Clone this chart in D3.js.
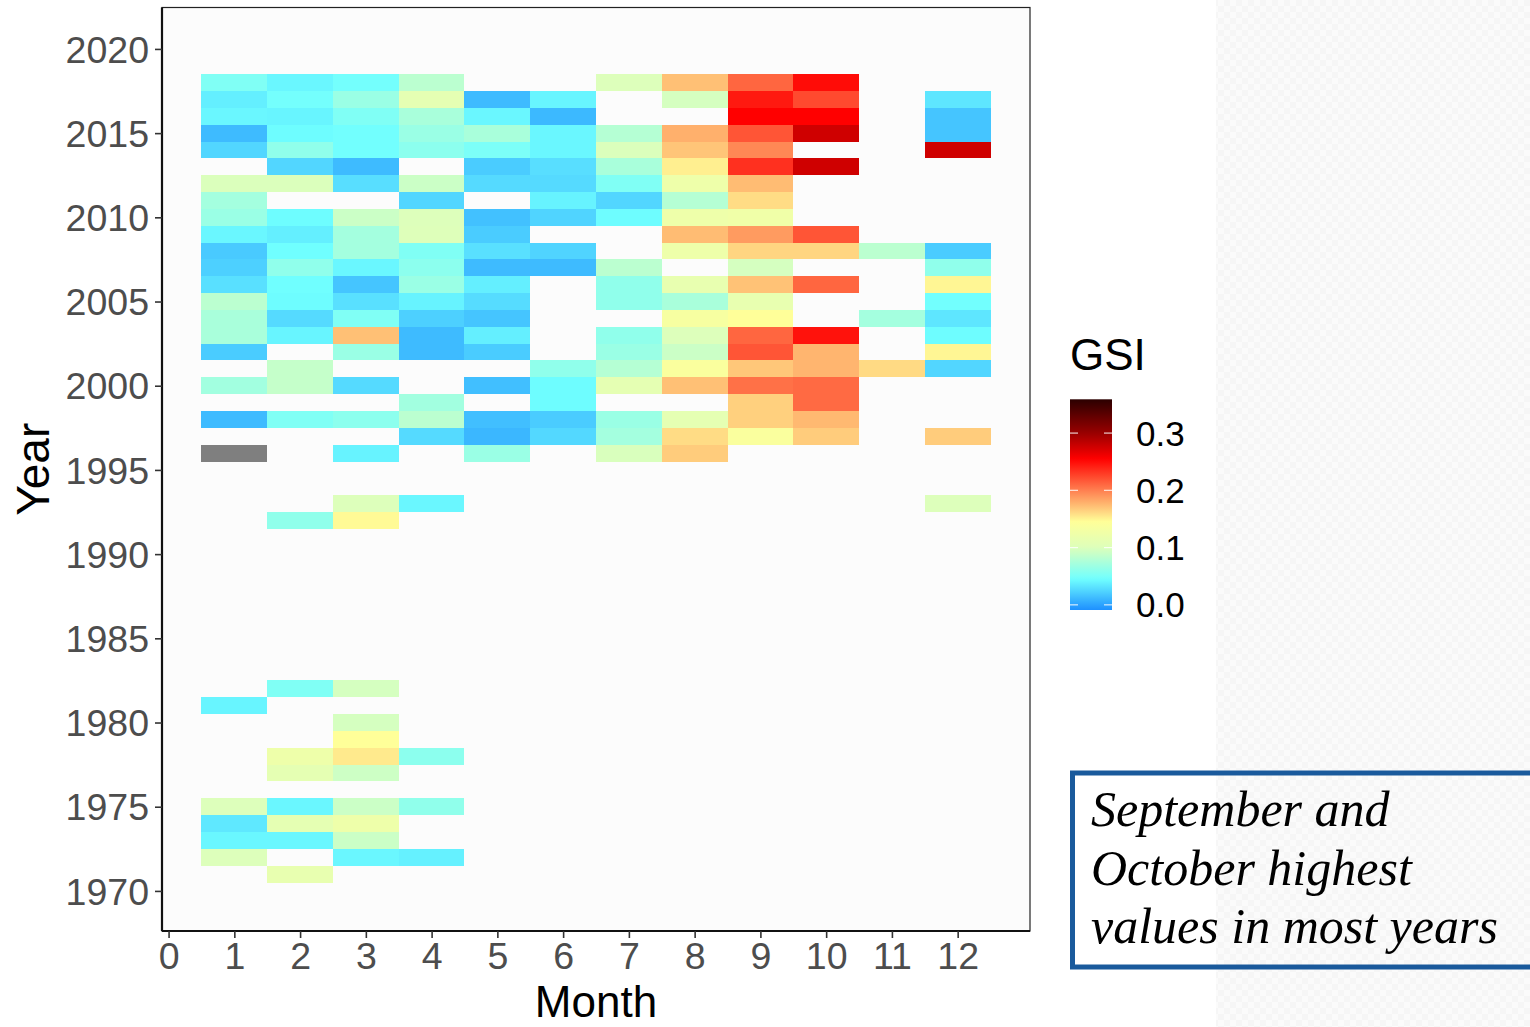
<!DOCTYPE html>
<html>
<head>
<meta charset="utf-8">
<script src="https://cdn.jsdelivr.net/npm/d3@7"></script>
<style>
  html, body { margin: 0; padding: 0; background: #ffffff; }
  svg { display: block; }
</style>
</head>
<body>
<script>
// ---------------- DATA ----------------
const months = [1,2,3,4,5,6,7,8,9,10,11,12];
const xTickValues = [0,1,2,3,4,5,6,7,8,9,10,11,12];
const yTickValues = [1970,1975,1980,1985,1990,1995,2000,2005,2010,2015,2020];
const legendTicks = [0.0, 0.1, 0.2, 0.3];
const legendTickLabels = ["0.0","0.1","0.2","0.3"];
const years = [2018,2017,2016,2015,2014,2013,2012,2011,2010,2009,2008,2007,2006,2005,2004,2003,2002,2001,2000,
               1999,1998,1997,1996,1993,1992,1982,1981,1980,1979,1978,1977,1975,1974,1973,1972,1971];
// GSI per year (rows, same order as `years`), months 1..12; null = no data, "NA" = missing value (grey)
const gsi = [
  [0.053,0.041,0.047,0.083,null,null,0.100,0.172,0.211,0.250,null,null],   // 2018
  [0.037,0.047,0.066,0.111,0.012,0.040,null,0.096,0.244,0.223,null,0.033], // 2017
  [0.041,0.040,0.053,0.074,0.041,0.011,null,null,0.255,0.255,null,0.017],  // 2016
  [0.012,0.044,0.046,0.066,0.074,0.041,0.080,0.179,0.218,0.276,null,0.017],// 2015
  [0.025,0.061,0.046,0.059,0.051,0.041,0.099,0.170,0.196,null,null,0.276], // 2014
  [null,0.025,0.012,null,0.020,0.029,0.074,0.152,0.234,0.276,null,null],   // 2013
  [0.099,0.099,0.029,0.091,0.027,0.027,0.053,0.122,0.174,null,null,null],  // 2012
  [0.071,null,null,0.025,null,0.039,0.025,0.080,0.160,null,null,null],     // 2011
  [0.066,0.044,0.091,0.100,0.015,0.024,0.044,0.122,0.125,null,null,null],  // 2010
  [0.041,0.037,0.071,0.101,0.020,null,null,0.174,0.188,0.218,null,null],   // 2009
  [0.019,0.045,0.071,0.053,0.030,0.024,null,0.122,0.163,0.163,0.083,0.020],// 2008
  [0.022,0.061,0.041,0.059,0.012,0.012,0.083,null,0.096,null,null,0.061],  // 2007
  [0.030,0.045,0.017,0.066,0.037,null,0.061,0.114,0.171,0.211,null,0.149], // 2006
  [0.083,0.044,0.030,0.039,0.028,null,0.061,0.074,0.114,null,null,0.046],  // 2005
  [0.074,0.027,0.053,0.022,0.017,null,null,0.135,0.145,null,0.071,0.033],  // 2004
  [0.074,0.040,0.172,0.012,0.037,null,0.061,0.100,0.211,0.247,null,0.044], // 2003
  [0.020,null,0.066,0.012,0.020,null,0.066,0.091,0.218,0.177,null,0.149],  // 2002
  [null,0.088,null,null,null,0.061,0.080,0.138,0.169,0.177,0.161,0.025],   // 2001
  [0.070,0.088,0.027,null,0.014,0.044,0.111,0.172,0.206,0.209,null,null],  // 2000
  [null,null,null,0.070,null,0.044,null,null,0.165,0.209,null,null],       // 1999
  [0.012,0.053,0.059,0.083,0.014,0.020,0.066,0.111,0.165,0.175,null,null], // 1998
  [null,null,null,0.027,0.010,0.026,0.071,0.160,0.138,0.167,null,0.167],   // 1997
  ["NA",null,0.039,null,0.066,null,0.098,0.167,null,null,null,null],       // 1996
  [null,null,0.100,0.041,null,null,null,null,null,null,null,0.100],        // 1993
  [null,0.061,0.147,null,null,null,null,null,null,null,null,null],         // 1992
  [null,0.053,0.096,null,null,null,null,null,null,null,null,null],         // 1982
  [0.040,null,null,null,null,null,null,null,null,null,null,null],          // 1981
  [null,null,0.096,null,null,null,null,null,null,null,null,null],          // 1980
  [null,null,0.145,null,null,null,null,null,null,null,null,null],          // 1979
  [null,0.122,0.154,0.059,null,null,null,null,null,null,null,null],        // 1978
  [null,0.110,0.092,null,null,null,null,null,null,null,null,null],         // 1977
  [0.100,0.041,0.091,0.061,null,null,null,null,null,null,null,null],       // 1975
  [0.034,0.111,0.122,null,null,null,null,null,null,null,null,null],        // 1974
  [0.041,0.041,0.091,null,null,null,null,null,null,null,null,null],        // 1973
  [0.100,null,0.041,0.038,null,null,null,null,null,null,null,null],        // 1972
  [null,0.114,null,null,null,null,null,null,null,null,null,null]           // 1971
];
const colorStops = [-0.009, 0.045, 0.100, 0.145, 0.200, 0.255, 0.300, 0.359];
const colorValues = ["#1E90FF","#70FFFF","#DDFFBB","#FFFF99","#FF7F50","#FF0000","#990000","#2B0000"];
const noteLines = ["September and","October highest","values in most years"];

// ---------------- LAYOUT ----------------
const W = 1530, H = 1027;
const panel = {left: 162, right: 1030, top: 7.5, bottom: 931};

const svg = d3.select("body").append("svg").attr("width", W).attr("height", H);

// textured background on the right
const defs = svg.append("defs");
const pat = defs.append("pattern").attr("id","tex").attr("width",12).attr("height",12)
  .attr("patternUnits","userSpaceOnUse");
pat.append("rect").attr("width",12).attr("height",12).attr("fill","#fbfbfb");
pat.append("rect").attr("width",6).attr("height",6).attr("fill","#f6f6f6");
pat.append("rect").attr("x",6).attr("y",6).attr("width",6).attr("height",6).attr("fill","#f6f6f6");
svg.append("rect").attr("x",1216).attr("y",0).attr("width",W-1216).attr("height",H).attr("fill","url(#tex)");

const x = d3.scaleLinear().domain([-0.1, 13.1]).range([panel.left, panel.right]);
const y = d3.scaleLinear().domain([1967.62, 2022.46]).range([panel.bottom, panel.top]);
const color = d3.scaleLinear().domain(colorStops).range(colorValues).interpolate(d3.interpolateRgb).clamp(true);

// panel background
svg.append("rect").attr("x",panel.left).attr("y",panel.top)
  .attr("width",panel.right-panel.left).attr("height",panel.bottom-panel.top)
  .attr("fill","#fcfcfc");

// tiles
const cells = [];
years.forEach((yr, i) => {
  months.forEach((m, j) => {
    const v = gsi[i][j];
    if (v !== null) cells.push({year: yr, month: m, value: v});
  });
});
svg.append("g").selectAll("rect").data(cells).join("rect")
  .attr("x", d => x(d.month - 0.5))
  .attr("y", d => y(d.year + 0.5))
  .attr("width", d => x(d.month + 0.5) - x(d.month - 0.5))
  .attr("height", d => y(d.year - 0.5) - y(d.year + 0.5))
  .attr("fill", d => d.value === "NA" ? "#7f7f7f" : color(d.value))
  .attr("shape-rendering","crispEdges");

// panel border
svg.append("rect").attr("x",panel.left).attr("y",panel.top)
  .attr("width",panel.right-panel.left).attr("height",panel.bottom-panel.top)
  .attr("fill","none").attr("stroke","#222").attr("stroke-width",1.2);

// axes
const xAxis = d3.axisBottom(x).tickValues(xTickValues).tickFormat(d3.format("d")).tickSize(7).tickPadding(6);
const gx = svg.append("g").attr("transform",`translate(0,${panel.bottom})`).call(xAxis);
const yAxis = d3.axisLeft(y).tickValues(yTickValues).tickFormat(d3.format("d")).tickSize(7).tickPadding(6);
const gy = svg.append("g").attr("transform",`translate(${panel.left},0)`).call(yAxis);
[gx, gy].forEach(g => {
  g.select(".domain").attr("stroke","#111").attr("stroke-width",2.2);
  g.selectAll(".tick line").attr("stroke","#333").attr("stroke-width",1.6);
  g.selectAll(".tick text").attr("fill","#4d4d4d")
    .style("font-family","'Liberation Sans', Arial, sans-serif").style("font-size","37.5px");
});
gx.select(".domain").attr("d", `M${panel.left},0H${panel.right}`);
gy.select(".domain").attr("d", `M0,${panel.top}V${panel.bottom}`);
gx.selectAll(".tick text").attr("dy","0.71em").attr("y", 11);
gy.selectAll(".tick text").attr("x", -13).attr("dy","0.35em");

// axis titles
svg.append("text").attr("x",(panel.left+panel.right)/2).attr("y",1017)
  .attr("text-anchor","middle").attr("fill","#000")
  .style("font-family","'Liberation Sans', Arial, sans-serif").style("font-size","44px").text("Month");
svg.append("text").attr("transform",`translate(49,${(panel.top+panel.bottom)/2}) rotate(-90)`)
  .attr("text-anchor","middle").attr("fill","#000")
  .style("font-family","'Liberation Sans', Arial, sans-serif").style("font-size","46px").text("Year");

// legend
const lg = {x: 1070, w: 42, top: 399.3, bottom: 610};
const ly = d3.scaleLinear().domain([colorStops[0], colorStops[colorStops.length-1]]).range([lg.bottom, lg.top]);
const grad = defs.append("linearGradient").attr("id","gsiGrad").attr("x1",0).attr("y1",1).attr("x2",0).attr("y2",0);
const lo = colorStops[0], hi = colorStops[colorStops.length-1];
d3.range(0, 1.0001, 0.02).forEach(t => {
  const v = lo + t*(hi-lo);
  grad.append("stop").attr("offset", t).attr("stop-color", color(v));
});
svg.append("text").attr("x",lg.x).attr("y",370).attr("fill","#000")
  .style("font-family","'Liberation Sans', Arial, sans-serif").style("font-size","44px").text("GSI");
svg.append("rect").attr("x",lg.x).attr("y",lg.top).attr("width",lg.w).attr("height",lg.bottom-lg.top)
  .attr("fill","url(#gsiGrad)");
const lt = svg.append("g");
legendTicks.forEach((t, i) => {
  const yy = ly(t);
  lt.append("line").attr("x1",lg.x).attr("x2",lg.x+8).attr("y1",yy).attr("y2",yy)
    .attr("stroke","#fff").attr("stroke-opacity",0.8).attr("stroke-width",1.2);
  lt.append("line").attr("x1",lg.x+lg.w-8).attr("x2",lg.x+lg.w).attr("y1",yy).attr("y2",yy)
    .attr("stroke","#fff").attr("stroke-opacity",0.8).attr("stroke-width",1.2);
  lt.append("text").attr("x",1136).attr("y",yy).attr("dy","0.36em").attr("fill","#000")
    .style("font-family","'Liberation Sans', Arial, sans-serif").style("font-size","35px")
    .text(legendTickLabels[i]);
});

// note box
svg.append("rect").attr("x",1072.5).attr("y",773).attr("width",500).attr("height",194)
  .attr("fill","none").attr("stroke","#1a5a9c").attr("stroke-width",5);
noteLines.forEach((s, i) => {
  svg.append("text").attr("x",1091).attr("y",826 + i*58.5).attr("fill","#000")
    .style("font-family","'Liberation Serif', 'DejaVu Serif', serif").style("font-style","italic")
    .style("font-size","50px").text(s);
});
</script>
</body>
</html>
